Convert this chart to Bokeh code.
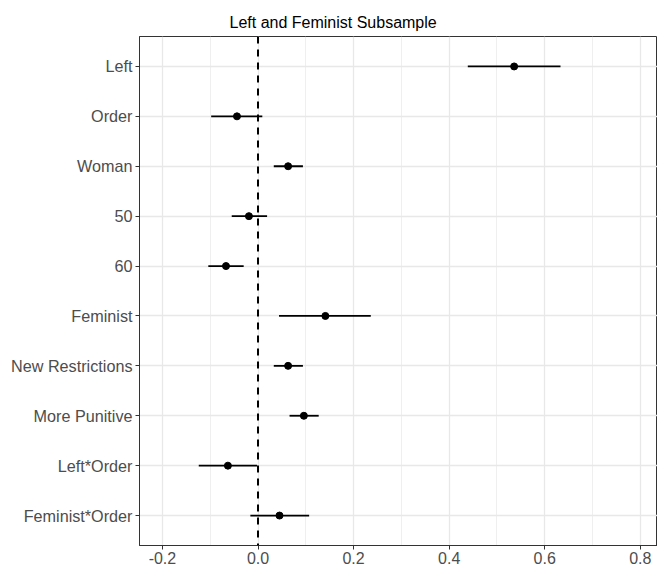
from bokeh.plotting import figure
from bokeh.models import Range1d, FixedTicker, Span, Title
from bokeh.embed import file_html
from bokeh.resources import INLINE

# Coefficient estimates with 95% intervals, listed top to bottom
terms = ["Left", "Order", "Woman", "50", "60", "Feminist",
         "New Restrictions", "More Punitive", "Left*Order", "Feminist*Order"]
estimate = [0.536, -0.044, 0.063, -0.019, -0.067, 0.141, 0.063, 0.096, -0.063, 0.045]
ci_low = [0.439, -0.098, 0.033, -0.055, -0.104, 0.044, 0.033, 0.066, -0.124, -0.016]
ci_high = [0.633, 0.009, 0.094, 0.019, -0.030, 0.236, 0.094, 0.127, -0.002, 0.107]
x_ticks = [-0.2, 0.0, 0.2, 0.4, 0.6, 0.8]
x_minor = [-0.1, 0.1, 0.3, 0.5, 0.7]

n = len(terms)
ypos = [n - i for i in range(n)]  # first term on top

FONT = "Liberation Sans"

p = figure(width=657, height=569, output_backend="svg", toolbar_location=None,
           x_range=Range1d(-0.248, 0.836), y_range=Range1d(0.4, n + 0.6),
           min_border_left=139, min_border_right=0, min_border_top=36,
           min_border_bottom=24)

p.title = Title(text="Left and Feminist Subsample", align="left", offset=90,
                standoff=12, text_font=FONT, text_font_size="16px",
                text_font_style="normal", text_color="#000000")

p.background_fill_color = "white"
p.border_fill_color = "white"
p.outline_line_color = "#333333"
p.outline_line_width = 1

# x axis
p.xaxis.ticker = FixedTicker(ticks=x_ticks, minor_ticks=x_minor)
p.xaxis.major_label_overrides = {t: f"{t:.1f}" for t in x_ticks}
p.xaxis.major_label_text_font = FONT
p.xaxis.major_label_text_font_size = "16px"
p.xaxis.major_label_text_color = "#4d4d4d"
p.xaxis.major_label_standoff = 2
# y axis with term names
p.yaxis.ticker = FixedTicker(ticks=ypos)
p.yaxis.major_label_overrides = {y: t for y, t in zip(ypos, terms)}
p.yaxis.major_label_text_font = FONT
p.yaxis.major_label_text_font_size = "16.2px"
p.yaxis.major_label_text_color = "#4d4d4d"
p.yaxis.major_label_standoff = 3

for ax in (p.xaxis, p.yaxis):
    ax.axis_line_color = "#333333"
    ax.axis_line_width = 1
    ax.major_tick_line_color = "#333333"
    ax.major_tick_line_width = 1
    ax.major_tick_out = 4
    ax.major_tick_in = 0
    ax.minor_tick_line_color = None

# grid
p.xgrid.grid_line_color = "#e8e8e8"
p.xgrid.grid_line_width = 1.3
p.xgrid.minor_grid_line_color = "#ebebeb"
p.xgrid.minor_grid_line_width = 0.8
p.ygrid.grid_line_color = "#e8e8e8"
p.ygrid.grid_line_width = 1.3

# reference line at zero
p.add_layout(Span(location=0, dimension="height", line_color="black",
                  line_width=2, line_dash="7 6"))

# intervals and point estimates
p.segment(x0=ci_low, y0=ypos, x1=ci_high, y1=ypos, line_color="black", line_width=1.8)
p.scatter(x=estimate, y=ypos, size=7, fill_color="black", line_color="black")

open("out.html", "w").write(file_html(p, INLINE))
